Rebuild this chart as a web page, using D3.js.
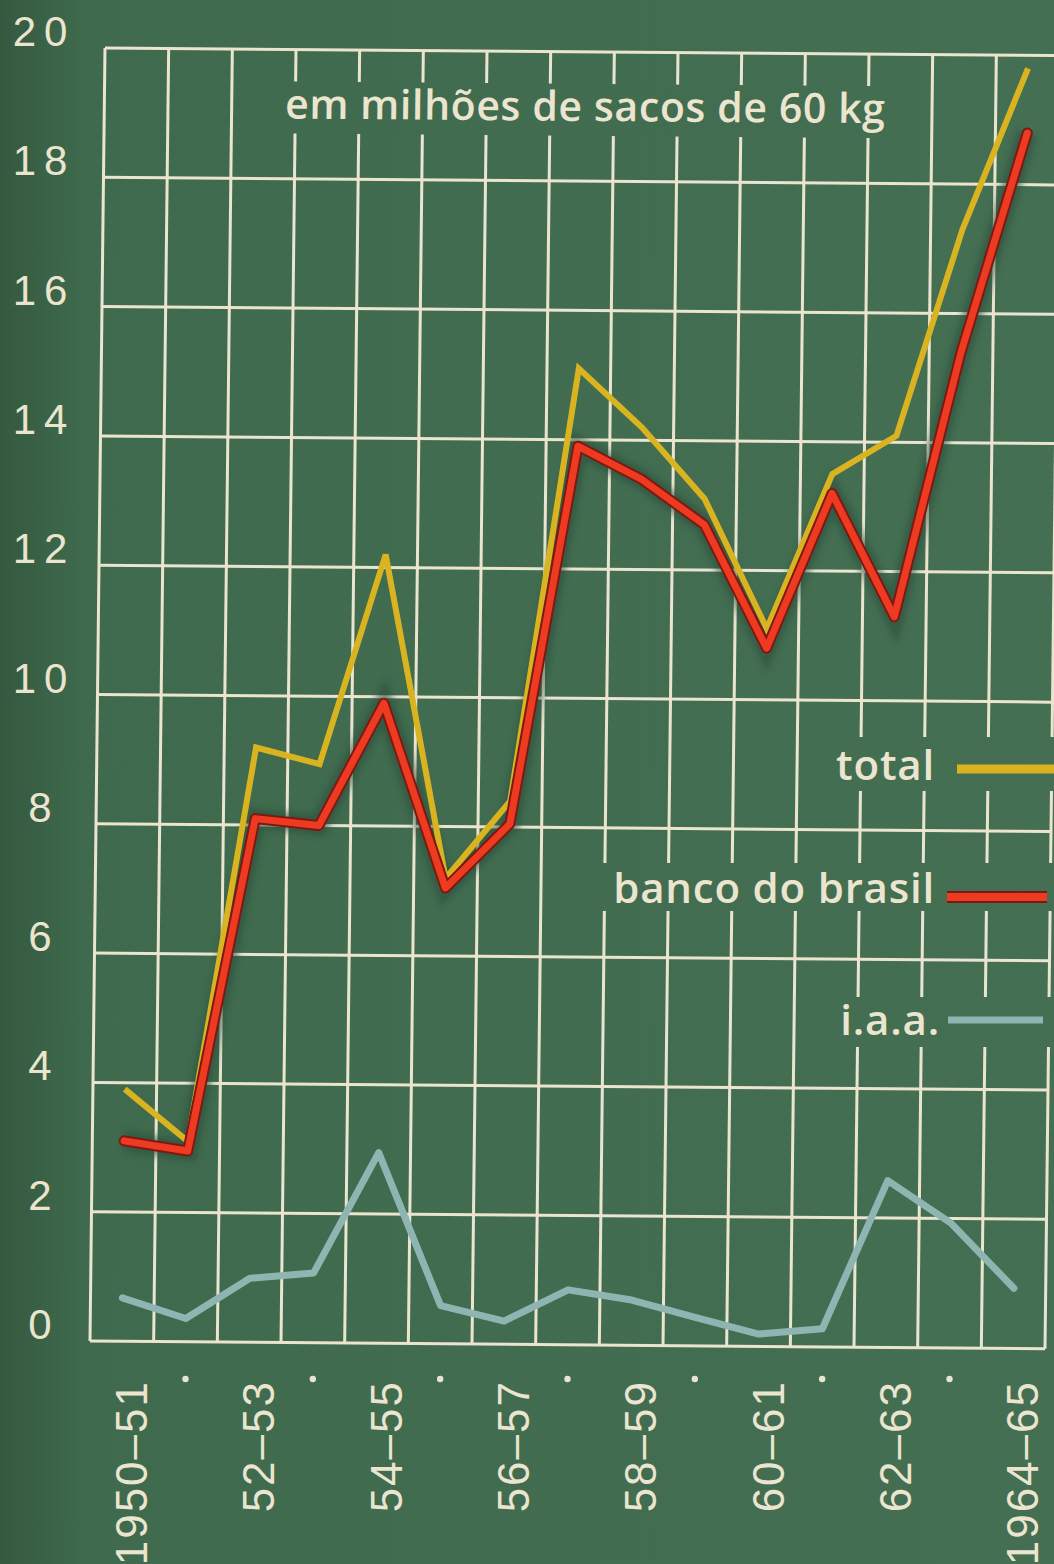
<!DOCTYPE html>
<html lang="pt">
<head>
<meta charset="UTF-8">
<title>em milhões de sacos de 60 kg</title>
<script src="https://d3js.org/d3.v7.min.js"></script>
<style>
  html, body { margin: 0; padding: 0; background: #426c50; }
  svg { display: block; }
  .cream { fill: #ebe5d0; }
</style>
</head>
<body>
<script>
// seasons (safras) on the x axis
const seasons = ["1950-51", "1951-52", "1952-53", "1953-54", "1954-55", "1955-56", "1956-57", "1957-58",
                 "1958-59", "1959-60", "1960-61", "1961-62", "1962-63", "1963-64", "1964-65"];
// labels printed under the axis ("" = only a dot)
const seasonLabels = ["1950–51", "", "52–53", "", "54–55", "", "56–57", "",
                      "58–59", "", "60–61", "", "62–63", "", "1964–65"];
// millions of 60 kg bags
const totalValues  = [3.9, 3.1, 9.2, 8.95, 12.2, 7.2, 8.4, 15.1, 14.2, 13.1, 11.1, 13.5, 14.1, 17.3, 19.8];
const bancoValues  = [3.1, 2.95, 8.1, 8.0, 9.9, 7.05, 8.05, 13.9, 13.4, 12.7, 10.8, 13.2, 11.3, 15.4, 18.8];
const iaaValues    = [0.67, 0.36, 0.99, 1.08, 2.95, 0.59, 0.36, 0.85, 0.7, 0.44, 0.19, 0.28, 2.58, 1.93, 0.93];
const yTicks = [0, 2, 4, 6, 8, 10, 12, 14, 16, 18, 20];

const W = 1054, H = 1564;
const cream = "#ebe5d0";

const svg = d3.select("body").append("svg")
    .attr("width", W)
    .attr("height", H);

// slightly darker left edge, like the photographed board
const defs = svg.append("defs");
const grad = defs.append("linearGradient").attr("id", "bgGrad")
    .attr("gradientUnits", "userSpaceOnUse")
    .attr("x1", 0).attr("x2", W).attr("y1", 0).attr("y2", 0);
grad.append("stop").attr("offset", "0%").attr("stop-color", "#34593f");
grad.append("stop").attr("offset", "8%").attr("stop-color", "#3f6a4d");
grad.append("stop").attr("offset", "100%").attr("stop-color", "#456f53");
defs.append("filter").attr("id", "blur")
    .append("feGaussianBlur").attr("stdDeviation", 3);

svg.append("rect").attr("width", W).attr("height", H).attr("fill", "url(#bgGrad)");

const x = d3.scaleBand().domain(seasons).range([90, 1045]).padding(0);
const y = d3.scaleLinear().domain([0, 20]).range([1341, 48]);
const cx = s => x(s) + x.bandwidth() / 2;

// the photo is a little skewed: apply a small affine around the lower-left corner
const c = -0.0116, b = 0.008;
const skew = `matrix(1,${b},${c},1,${-c * 1341},${-b * 90})`;

const gridG = svg.append("g").attr("transform", skew);
const edges = seasons.map(s => x(s)).concat([x.range()[1]]);
gridG.selectAll("line.v").data(edges).join("line")
    .attr("x1", d => d).attr("x2", d => d)
    .attr("y1", y(20)).attr("y2", y(0))
    .attr("stroke", cream).attr("stroke-width", 3);
gridG.selectAll("line.h").data(yTicks).join("line")
    .attr("x1", x.range()[0]).attr("x2", d => d === 20 ? 1060 : x.range()[1])
    .attr("y1", d => y(d)).attr("y2", d => y(d))
    .attr("stroke", cream).attr("stroke-width", 3);

// title inside the grid, with the grid broken behind it
const title = gridG.append("text")
    .attr("x", 571).attr("y", 117)
    .attr("text-anchor", "middle")
    .attr("class", "cream")
    .style("font-family", "'Open Sans', sans-serif")
    .style("font-size", "41px")
    .style("font-weight", 600)
    .style("letter-spacing", "0.6px")
    .text("em milhões de sacos de 60 kg");
const tb = title.node().getBBox();
gridG.insert("rect", "text")
    .attr("x", tb.x - 14).attr("y", 80).attr("width", tb.width + 28).attr("height", 52)
    .attr("fill", "url(#bgGrad)");

// legend entries, with gaps cut in the grid behind them
const legend = [
  {name: "total", color: "#d9b420", tx: 935, ty: 780, lx1: 957, lx2: 1054, ly: 769, w: 9, gap: [835, 737, 219, 54]},
  {name: "banco do brasil", color: "#ef3a22", tx: 935, ty: 903, lx1: 947, lx2: 1047, ly: 897, w: 8, gap: [598, 863, 456, 48]},
  {name: "i.a.a.", color: "#8fb5b2", tx: 940, ty: 1035, lx1: 948, lx2: 1043, ly: 1020, w: 7, gap: [828, 997, 226, 50]}
];
svg.selectAll("rect.gap").data(legend).join("rect")
    .attr("x", d => d.gap[0]).attr("y", d => d.gap[1])
    .attr("width", d => d.gap[2]).attr("height", d => d.gap[3])
    .attr("fill", "url(#bgGrad)");

// data lines
const dataG = svg.append("g").attr("transform", skew);
const line = d3.line().x((d, i) => cx(seasons[i])).y(d => y(d));

dataG.append("path").attr("d", line(iaaValues))
    .attr("fill", "none").attr("stroke", "#8fb5b2").attr("stroke-width", 7)
    .attr("stroke-linejoin", "round").attr("stroke-linecap", "round");

// dark halo around the red line
dataG.append("path").attr("d", line(bancoValues))
    .attr("fill", "none").attr("stroke", "#264a3a").attr("stroke-opacity", 0.55)
    .attr("stroke-width", 20).attr("filter", "url(#blur)");

dataG.append("path").attr("d", line(totalValues))
    .attr("fill", "none").attr("stroke", "#d9b420").attr("stroke-width", 6)
    .attr("stroke-linejoin", "miter").attr("stroke-linecap", "butt");

dataG.append("path").attr("d", line(bancoValues))
    .attr("fill", "none").attr("stroke", "#7c1a12").attr("stroke-width", 11)
    .attr("stroke-linejoin", "round").attr("stroke-linecap", "round");
dataG.append("path").attr("d", line(bancoValues))
    .attr("fill", "none").attr("stroke", "#ef3a22").attr("stroke-width", 7)
    .attr("stroke-linejoin", "round").attr("stroke-linecap", "round");

// legend
const lg = svg.append("g");
lg.selectAll("text").data(legend).join("text")
    .attr("x", d => d.tx).attr("y", d => d.ty)
    .attr("text-anchor", "end")
    .attr("class", "cream")
    .style("font-family", "'Open Sans', sans-serif")
    .style("font-size", "42px")
    .style("font-weight", 600)
    .style("letter-spacing", "0.8px")
    .text(d => d.name);
lg.selectAll("line.k").data(legend.filter(d => d.name === "banco do brasil")).join("line")
    .attr("x1", d => d.lx1).attr("x2", d => d.lx2).attr("y1", d => d.ly).attr("y2", d => d.ly)
    .attr("stroke", "#7c1a12").attr("stroke-width", d => d.w + 4);
lg.selectAll("line.s").data(legend).join("line")
    .attr("x1", d => d.lx1).attr("x2", d => d.lx2).attr("y1", d => d.ly).attr("y2", d => d.ly)
    .attr("stroke", d => d.color).attr("stroke-width", d => d.w);

// y axis labels
svg.append("g").selectAll("text").data(yTicks).join("text")
    .attr("x", 44).attr("y", d => y(d) - 2)
    .attr("text-anchor", "middle")
    .attr("class", "cream")
    .style("font-family", "'Liberation Sans', Arial, sans-serif")
    .style("font-size", "42px")
    .style("letter-spacing", "8px")
    .text(d => d);

// x axis labels (rotated) and dots
const xl = svg.append("g");
seasons.forEach((s, i) => {
  const px = cx(s);
  if (seasonLabels[i]) {
    xl.append("text")
      .attr("transform", `translate(${px + 25},1380) rotate(-90)`)
      .attr("text-anchor", "end")
      .attr("class", "cream")
      .style("font-family", "'Liberation Sans', Arial, sans-serif")
      .style("font-size", "44px")
      .style("letter-spacing", "2px")
      .text(seasonLabels[i]);
  } else {
    xl.append("circle").attr("cx", px).attr("cy", 1379).attr("r", 3.2).attr("fill", cream);
  }
});
</script>
</body>
</html>
